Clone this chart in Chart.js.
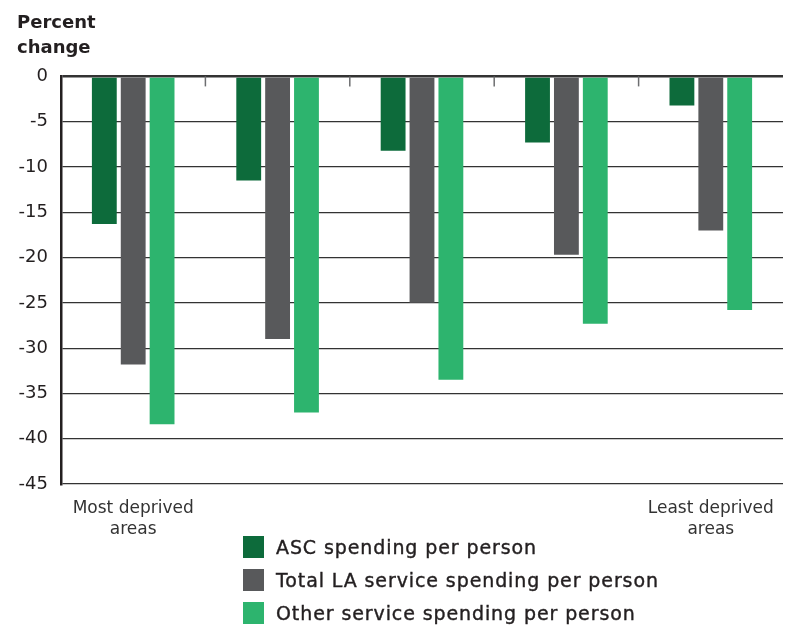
<!DOCTYPE html>
<html>
<head>
<meta charset="utf-8">
<script src="https://cdn.jsdelivr.net/npm/chart.js@4/dist/chart.umd.min.js"></script>
<style>
  html, body { margin: 0; padding: 0; background: #fff; }
  #wrap { position: relative; width: 787px; height: 625px; }
  #legend { position: absolute; left: 243px; top: 530px; font-family: "DejaVu Sans", sans-serif; font-size: 19px; letter-spacing: 0.9px; color: #231f20; -webkit-text-stroke: 0.4px #231f20; }
  #legend div { display: flex; align-items: center; height: 33px; }
  #legend span.box { display: inline-block; width: 21px; height: 22px; margin-right: 12px; }
</style>
</head>
<body>
<div id="wrap">
  <canvas id="chart" width="787" height="625"></canvas>
  <div id="legend"></div>
</div>
<script>
// categories (quintiles of deprivation)
const categories = [['Most deprived', 'areas'], '', '', '', ['Least deprived', 'areas']];
const seriesNames = ['ASC spending per person', 'Total LA service spending per person', 'Other service spending per person'];
const ascValues = [-16.3, -11.5, -8.2, -7.3, -3.2];
const totalValues = [-31.8, -29.0, -25.0, -19.7, -17.0];
const otherValues = [-38.4, -37.1, -33.5, -27.3, -25.8];
const yTicks = [0, -5, -10, -15, -20, -25, -30, -35, -40, -45];
const colors = ['#0d6b3b', '#58595b', '#2db46e'];

// short tick marks at group boundaries hanging from the zero line
const boundaryTicks = {
    id: 'boundaryTicks',
    afterDatasetsDraw(chart) {
        const x = chart.scales.x;
        const y = chart.scales.y;
        const ctx = chart.ctx;
        const top = y.getPixelForValue(0);
        ctx.save();
        ctx.strokeStyle = '#6d6e70';
        ctx.lineWidth = 1.5;
        for (let i = 0; i < categories.length - 1; i++) {
            const px = (x.getPixelForValue(i) + x.getPixelForValue(i + 1)) / 2;
            ctx.beginPath();
            ctx.moveTo(px, top);
            ctx.lineTo(px, top + 10);
            ctx.stroke();
        }
        ctx.restore();
    }
};

const chart = new Chart(document.getElementById('chart'), {
    type: 'bar',
    data: {
        labels: categories,
        datasets: [
            { label: seriesNames[0], data: ascValues, backgroundColor: colors[0] },
            { label: seriesNames[1], data: totalValues, backgroundColor: colors[1] },
            { label: seriesNames[2], data: otherValues, backgroundColor: colors[2] }
        ]
    },
    options: {
        responsive: false,
        animation: false,
        layout: { padding: { left: 17, right: 4, top: 11, bottom: 76 } },
        datasets: {
            bar: { categoryPercentage: 0.6, barPercentage: 0.86 }
        },
        plugins: {
            legend: { display: false },
            tooltip: { enabled: false },
            title: {
                display: true,
                align: 'start',
                text: ['Percent', 'change'],
                color: '#231f20',
                font: { family: 'DejaVu Sans', size: 18, weight: 'bold', lineHeight: 1.4 },
                padding: { top: 0, bottom: 15 }
            }
        },
        scales: {
            x: {
                grid: { display: false },
                border: { display: false },
                ticks: {
                    color: '#333',
                    font: { family: 'DejaVu Sans', size: 17, lineHeight: 1.25 },
                    maxRotation: 0,
                    autoSkip: false,
                    padding: 6
                },
                afterFit(scale) { scale.height = 65; }
            },
            y: {
                min: -45,
                max: 0,
                afterBuildTicks(scale) { scale.ticks = yTicks.map(v => ({ value: v })); },
                ticks: {
                    color: '#231f20',
                    font: { family: 'DejaVu Sans', size: 18 },
                    padding: 13
                },
                grid: {
                    color: '#333',
                    lineWidth: (c) => (c.tick && c.tick.value === 0 ? 2.5 : 1.2),
                    drawTicks: false
                },
                border: { color: '#231f20', width: 2.5 },
                afterFit(scale) { scale.width = 44; }
            }
        }
    },
    plugins: [boundaryTicks]
});

// vertical legend built from the chart's datasets
const legendEl = document.getElementById('legend');
chart.data.datasets.forEach(ds => {
    const row = document.createElement('div');
    const box = document.createElement('span');
    box.className = 'box';
    box.style.background = ds.backgroundColor;
    row.appendChild(box);
    row.appendChild(document.createTextNode(ds.label));
    legendEl.appendChild(row);
});
</script>
</body>
</html>
